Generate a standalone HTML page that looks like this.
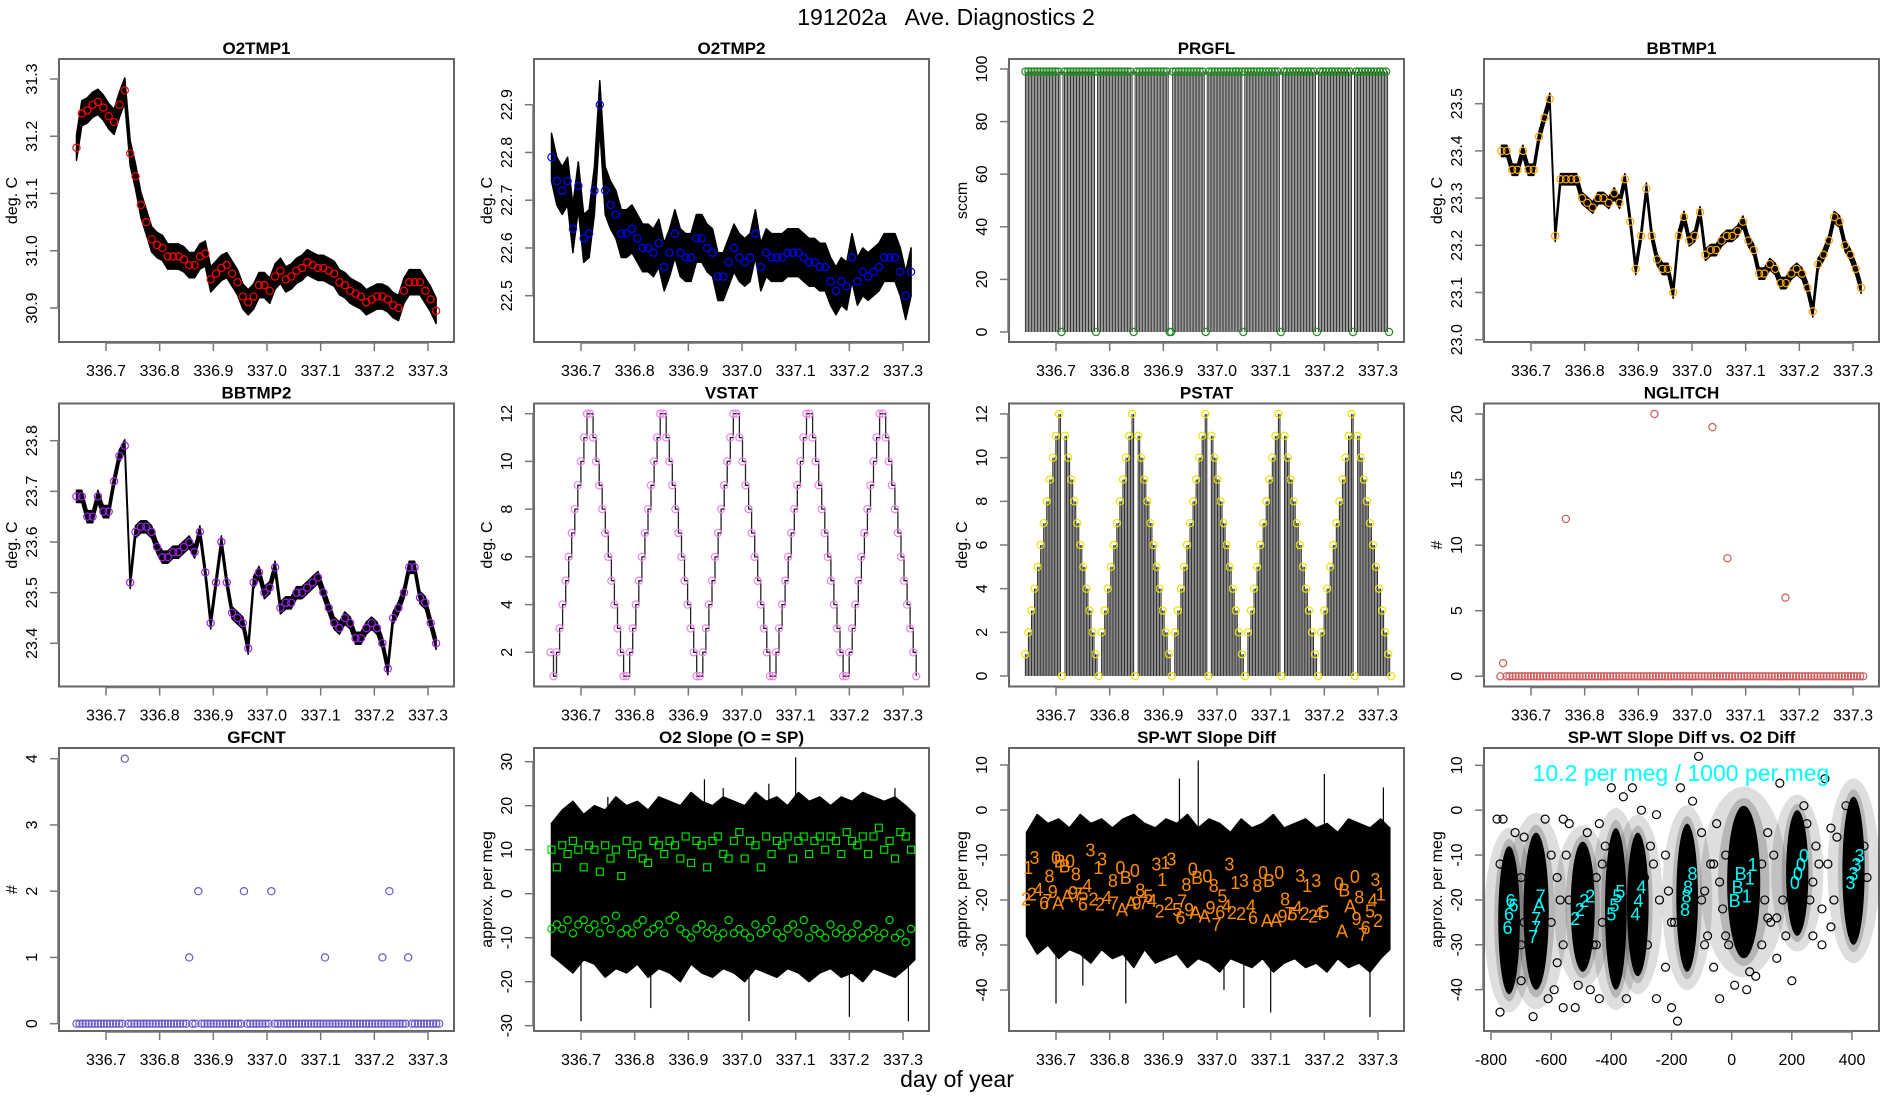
<!DOCTYPE html>
<html><head><meta charset="utf-8"><title>191202a Ave. Diagnostics 2</title>
<style>html,body{margin:0;padding:0;background:#fff}svg{display:block}text{font-family:"Liberation Sans",Arial,sans-serif}</style>
</head><body>
<svg id="chart" xmlns="http://www.w3.org/2000/svg" width="1900" height="1100" viewBox="0 0 1900 1100">
<rect x="0" y="0" width="1900" height="1100" fill="#fff"/>
<text x="946" y="25" font-size="23" text-anchor="middle" xml:space="preserve">191202a   Ave. Diagnostics 2</text>
<text x="957" y="1087" font-size="23" text-anchor="middle">day of year</text>
</svg>
<script>
// ---------- data ----------
const tGrid = [336.645,336.655,336.665,336.675,336.685,336.695,336.705,336.715,336.725,336.735,336.745,336.755,336.765,336.775,336.785,336.795,336.805,336.815,336.825,336.835,336.845,336.855,336.865,336.875,336.885,336.895,336.905,336.915,336.925,336.935,336.945,336.955,336.965,336.975,336.985,336.995,337.005,337.015,337.025,337.035,337.045,337.055,337.065,337.075,337.085,337.095,337.105,337.115,337.125,337.135,337.145,337.155,337.165,337.175,337.185,337.195,337.205,337.215,337.225,337.235,337.245,337.255,337.265,337.275,337.285,337.295,337.305,337.315];
const o2tmp1 = [31.18,31.24,31.245,31.255,31.26,31.25,31.235,31.225,31.255,31.28,31.17,31.13,31.08,31.05,31.02,31.01,31.005,30.99,30.99,30.99,30.985,30.975,30.975,30.99,30.995,30.95,30.96,30.97,30.975,30.96,30.945,30.92,30.91,30.92,30.94,30.94,30.93,30.955,30.965,30.95,30.955,30.965,30.97,30.98,30.975,30.97,30.97,30.965,30.96,30.945,30.94,30.93,30.925,30.92,30.91,30.915,30.92,30.92,30.915,30.905,30.90,30.93,30.945,30.945,30.945,30.93,30.915,30.895];
const o2tmp2 = [22.79,22.74,22.72,22.74,22.64,22.73,22.62,22.63,22.72,22.90,22.72,22.69,22.67,22.63,22.63,22.64,22.62,22.60,22.60,22.59,22.61,22.56,22.59,22.63,22.59,22.58,22.58,22.62,22.62,22.60,22.59,22.54,22.54,22.57,22.60,22.58,22.57,22.58,22.63,22.56,22.59,22.58,22.58,22.58,22.59,22.59,22.59,22.58,22.57,22.57,22.56,22.56,22.53,22.51,22.53,22.52,22.58,22.53,22.55,22.54,22.55,22.56,22.58,22.58,22.58,22.55,22.50,22.55];
const bbtmp1 = [23.40,23.40,23.36,23.36,23.40,23.36,23.36,23.43,23.47,23.51,23.22,23.34,23.34,23.34,23.34,23.30,23.29,23.28,23.30,23.30,23.29,23.31,23.29,23.34,23.25,23.15,23.22,23.32,23.22,23.17,23.15,23.15,23.10,23.22,23.26,23.21,23.22,23.27,23.18,23.19,23.19,23.21,23.22,23.22,23.23,23.25,23.21,23.19,23.14,23.14,23.16,23.15,23.12,23.12,23.14,23.15,23.14,23.11,23.06,23.16,23.18,23.21,23.26,23.25,23.20,23.18,23.15,23.11];
const bbtmp2 = [23.69,23.69,23.65,23.65,23.69,23.66,23.66,23.72,23.77,23.79,23.52,23.62,23.63,23.63,23.62,23.59,23.57,23.57,23.58,23.58,23.59,23.60,23.58,23.62,23.54,23.44,23.52,23.60,23.52,23.46,23.45,23.44,23.39,23.52,23.54,23.50,23.51,23.55,23.47,23.48,23.48,23.50,23.50,23.51,23.52,23.53,23.50,23.47,23.44,23.43,23.45,23.44,23.41,23.41,23.43,23.44,23.43,23.40,23.35,23.45,23.47,23.50,23.55,23.55,23.49,23.48,23.44,23.40];
const noiseAmp = [0.022, 0.05, 0.012, 0.012];

const purgeZeroTimes = [336.71,336.775,336.845,336.913,336.98,337.05,337.118,337.185,337.253,337.32];
const purgeHigh = 99;

const vstatVals = [2,1,2,3,4,5,6,7,8,9,10,11,12,12,11,10,9,8,7,6,5,4,3,2,1,1,2,3,4,5,6,7,8,9,10,11,12,12,11,10,9,8,7,6,5,4,3,2,1,1,2,3,4,5,6,7,8,9,10,11,12,12,11,10,9,8,7,6,5,4,3,2,1,1,2,3,4,5,6,7,8,9,10,11,12,12,11,10,9,8,7,6,5,4,3,2,1,1,2,3,4,5,6,7,8,9,10,11,12,12,11,10,9,8,7,6,5,4,3,2,1];
const pstatVals = [1,2,3,4,5,6,7,8,9,10,11,12,0,11,10,9,8,7,6,5,4,3,2,1,0,2,3,4,5,6,7,8,9,10,11,12,0,11,10,9,8,7,6,5,4,3,2,1,0,2,3,4,5,6,7,8,9,10,11,12,0,11,10,9,8,7,6,5,4,3,2,1,0,2,3,4,5,6,7,8,9,10,11,12,0,11,10,9,8,7,6,5,4,3,2,1,0,2,3,4,5,6,7,8,9,10,11,12,0,11,10,9,8,7,6,5,4,3,2,1,0];

const nglitchTimes = [336.648,336.765,336.93,337.038,337.066,337.174];
const nglitchVals = [1,12,20,19,9,6];
const gfcntTimes = [336.735,336.855,336.872,336.957,337.008,337.108,337.215,337.228,337.263];
const gfcntVals = [4,1,2,2,2,1,1,2,1];

const o2Low = [-8,-7,-8,-6,-9,-7,-6,-8,-7,-9,-6,-8,-5,-9,-8,-9,-7,-6,-9,-8,-7,-9,-6,-5,-8,-9,-10,-8,-7,-9,-8,-10,-9,-6,-9,-8,-9,-10,-7,-9,-8,-6,-9,-10,-8,-7,-9,-6,-10,-8,-9,-10,-7,-9,-8,-10,-9,-7,-10,-9,-8,-10,-9,-6,-10,-9,-11,-8];
const o2High = [10,6,11,9,12,10,6,11,10,5,11,8,10,4,12,9,11,8,7,12,11,9,12,11,8,13,7,12,11,6,12,13,9,8,12,14,8,12,11,6,13,9,12,11,13,8,12,13,9,12,13,10,13,12,9,14,12,11,13,9,13,15,10,12,8,14,13,10];
const tCoarse = [336.645,336.665,336.685,336.705,336.725,336.745,336.765,336.785,336.805,336.825,336.845,336.865,336.885,336.905,336.925,336.945,336.965,336.985,337.005,337.025,337.045,337.065,337.085,337.105,337.125,337.145,337.165,337.185,337.205,337.225,337.245,337.265,337.285,337.305,337.322];
const o2BandTop = [16,19,21,18,20,19,22,20,21,19,22,21,20,23,21,20,22,21,20,23,21,22,20,23,21,22,20,22,21,23,22,21,22,20,18];
const o2BandBot = [-14,-16,-18,-15,-16,-19,-17,-18,-16,-19,-17,-18,-20,-16,-18,-19,-17,-18,-20,-17,-18,-19,-17,-18,-20,-18,-17,-19,-18,-20,-17,-18,-19,-17,-15];
const spBandTop = [-5,-1,-3,-2,-4,-1,-3,-2,-4,-2,-1,-3,-4,-2,-3,-1,-4,-2,-3,-5,-2,-4,-3,-1,-4,-3,-2,-4,-3,-5,-2,-3,-4,-2,-4];
const spBandBot = [-28,-32,-30,-33,-31,-32,-34,-31,-33,-32,-35,-31,-34,-33,-32,-35,-33,-34,-36,-33,-34,-35,-33,-36,-34,-33,-35,-34,-36,-33,-35,-34,-36,-33,-31];
const spikeTimes = [336.7,336.75,336.83,336.93,336.965,337.013,337.05,337.1,337.2,337.285,337.31];
const o2SpikeVals = [-29,22,-26,26,24,-29,25,31,-28,24,-29];
const spSpikeVals = [-43,-39,-43,7,11,-40,-44,-45,8,-46,5];

const spLabT = [336.644,336.648,336.655,336.660,336.667,336.678,336.684,336.688,336.694,336.700,336.704,336.707,336.716,336.721,336.726,336.732,336.737,336.741,336.750,336.751,336.758,336.764,336.770,336.779,336.782,336.786,336.795,336.806,336.808,336.820,336.823,336.830,336.840,336.847,336.850,336.857,336.863,336.872,336.879,336.887,336.893,336.898,336.904,336.910,336.915,336.926,336.932,336.935,336.943,336.948,336.955,336.960,336.963,336.977,336.982,336.988,336.994,336.999,337.006,337.010,337.018,337.023,337.028,337.034,337.045,337.050,337.063,337.067,337.075,337.086,337.093,337.097,337.110,337.116,337.122,337.127,337.135,337.141,337.150,337.155,337.163,337.168,337.179,337.185,337.188,337.200,337.227,337.233,337.237,337.248,337.257,337.260,337.265,337.272,337.277,337.285,337.290,337.295,337.300,337.305];
const spLabV = [-19.7,-12.7,-18.6,-10.4,-17.5,-20.5,-20,-14.5,-18,-10.4,-20.5,-11.2,-12.3,-19,-11.2,-18.2,-14.1,-18.6,-20.8,-18.6,-16.7,-8.8,-19.7,-12.7,-20.8,-10.8,-19.3,-15.6,-20.5,-12.7,-22,-14.9,-20.5,-13.3,-20.5,-17.7,-20.5,-19,-20,-11.9,-22.3,-15.3,-11.5,-20.7,-10.8,-22,-23.8,-20.1,-16.4,-22,-13,-22.7,-14.9,-23.4,-14.5,-21.6,-16.7,-25.3,-22.5,-19,-21.2,-11.9,-22.7,-16,-22.9,-15.6,-21.2,-23.8,-16.7,-13.8,-24.4,-15.5,-24.3,-13.8,-23.4,-19.7,-22.9,-23,-21.6,-14.4,-22.9,-16.7,-23.4,-15.5,-22.9,-22.5,-16.2,-26.8,-17.7,-21.2,-14.7,-24,-19.2,-27.5,-26,-22.3,-19.9,-15.3,-24.4,-18.5];
const spLabC = ["2","1","2","3","4","6","7","8","9","0","A","B","B","A","0","9","8","7","6","5","4","3","2","1","2","3","4","8","7","0","A","B","A","0","9","8","7","5","4","3","2","1","1","2","3","5","6","7","8","9","0","A","B","A","0","9","8","7","6","5","4","3","2","1","2","3","4","6","8","0","A","B","A","0","9","8","7","5","4","3","2","1","2","3","4","5","0","A","B","A","0","9","8","7","6","5","4","3","2","1"];

const clusterX = [-740,-650,-495,-385,-312,-148,40,218,405];
const clusterTop = [-8,-5,-7,-4,-5,-3,1,0,3];
const clusterBot = [-41,-40,-36,-40,-37,-36,-33,-28,-30];
const clusterHalfW = [26,32,30,26,26,26,45,27,27];
const outX = [-780,-760,-720,-690,-770,-700,-690,-700,-770,-660,-610,-590,-560,-600,-580,-550,-560,-520,-510,-540,-470,-440,-450,-430,-420,-440,-400,-360,-330,-350,-280,-290,-250,-250,-220,-220,-200,-180,-190,-170,-110,-100,-90,-80,-60,-40,-50,-20,-30,10,50,80,110,120,140,150,160,180,200,250,260,270,290,300,310,320,340,330,380,440,450,-620,-560,-480,-300,-130,-10,100,240,-570,-460,-240,-70,60,130,280,350,-600,-540,-450,-350,-260,-200,-100,-60,-20,100,150,270,330,-700,-580,-430,-270,-210,-90,-40,120,170,300];
const outY = [-2,-2,-5,-6,-12,-15,-25,-38,-45,-46,-42,-40,-44,-25,-15,-10,-30,-44,-39,-3,-40,-42,-15,-25,-8,-3,5,3,5,-42,-30,-15,-1,-42,-10,-35,-44,-47,-25,5,12,-5,-18,-28,-35,-42,-3,-10,-22,-39,-40,-37,-20,-5,-10,-33,6,-28,-38,-3,-20,-28,-12,-22,7,-12,-20,-26,1,-8,-15,-2,-2,-5,0,2,-30,-30,1,-20,-30,-20,-12,-36,-25,-8,-6,-10,-20,-30,-20,-12,-25,-20,-12,-28,-12,-24,-16,-4,-30,-34,-12,-8,-18,-30,-16,-24,-20,-30];
const cyanX = [-745,-740,-735,-725,-660,-650,-640,-635,-650,-520,-505,-490,-470,-400,-390,-380,-370,-320,-310,-300,-155,-150,-145,-130,10,20,30,50,60,70,210,220,230,240,395,405,415,425];
const cyanY = [-26,-23,-20,-21,-28,-24,-21,-19,-26,-24,-22,-20,-19,-23,-21,-19,-18,-23,-20,-17,-22,-19,-17,-14,-20,-17,-14,-19,-15,-12,-16,-14,-12,-10,-16,-14,-12,-10];
const cyanC = ["6","6","6","6","7","7","A","7","7","2","2","2","2","5","5","5","5","4","4","4","8","8","8","8","B","B","B","1","1","1","0","0","0","0","3","3","3","3"];

const timeTicks = [336.7,336.8,336.9,337.0,337.1,337.2,337.3];
const timeTickLabels = ["336.7","336.8","336.9","337.0","337.1","337.2","337.3"];

// ---------- drawing ----------
const NS = "http://www.w3.org/2000/svg";
const svg = document.getElementById("chart");
function mk(tag, attrs, parent){ const e=document.createElementNS(NS,tag); for(const k in attrs) e.setAttribute(k,attrs[k]); (parent||svg).appendChild(e); return e; }
function box(c,r){ const L=475*c+59, T=59+344.5*r; return {L:L,R:L+395,T:T,B:T+283,cL:475*c}; }
function timeX(b){ return t => b.cL + 106 + (t-336.7)*536.7; }
function linY(v0,p0,v1,p1){ const k=(p1-p0)/(v1-v0); return v => p0+(v-v0)*k; }

function frame(b, title, name){
  const g=mk("g",{});
  
  
  const rc=mk("rect",{x:b.L,y:b.T,width:b.R-b.L,height:b.B-b.T,fill:"none",stroke:"#666","stroke-width":2},g);
  
  
  const tt=mk("text",{x:(b.L+b.R)/2,y:b.T-5,"font-size":17,"font-weight":"bold","text-anchor":"middle"},g);
  tt.textContent=title;
  
  
  return g;
}
function xAxis(g,b,sx,ticks,labels,name){
  const ax=mk("g",{},g);
  
  
  const p0=sx(ticks[0]), p1=sx(ticks[ticks.length-1]);
  mk("line",{x1:p0,x2:p1,y1:b.B+1,y2:b.B+1,stroke:"#777","stroke-width":1.5},ax);
  ticks.forEach((t,i)=>{
    const x=sx(t);
    mk("line",{x1:x,x2:x,y1:b.B,y2:b.B+9,stroke:"#777","stroke-width":1.5},ax);
    const tx=mk("text",{x:x,y:b.B+34,"font-size":16,"text-anchor":"middle"},ax);
    tx.textContent=labels[i];
    
    
  });
}
function yAxis(g,b,sy,ticks,labels,ylab,name){
  const ax=mk("g",{},g);
  
  
  const p0=sy(ticks[0]), p1=sy(ticks[ticks.length-1]);
  mk("line",{x1:b.L-1,x2:b.L-1,y1:p0,y2:p1,stroke:"#777","stroke-width":1.5},ax);
  ticks.forEach((t,i)=>{
    const y=sy(t);
    mk("line",{x1:b.L-9,x2:b.L,y1:y,y2:y,stroke:"#777","stroke-width":1.5},ax);
    const tx=mk("text",{x:0,y:0,"font-size":16,"text-anchor":"middle",transform:`translate(${b.cL+37},${y}) rotate(-90)`},ax);
    tx.textContent=labels[i];
    
    
  });
  const yl=mk("text",{x:0,y:0,"font-size":16,"text-anchor":"middle",transform:`translate(${b.cL+17},${(b.T+b.B)/2}) rotate(-90)`},ax);
  yl.textContent=ylab;
  
  
}
function band(g,sx,sy,ts,top,bot,name){
  let d="M"+ts.map((t,i)=>sx(t).toFixed(1)+","+sy(top[i]).toFixed(1)).join(" L");
  for(let i=ts.length-1;i>=0;i--) d+=" L"+sx(ts[i]).toFixed(1)+","+sy(bot[i]).toFixed(1);
  const p=mk("path",{d:d+"Z",fill:"#000",stroke:"#000","stroke-width":1.5,"stroke-linejoin":"round"},g);
  
  
}
function circles(g,sx,sy,ts,vs,color,name,r){
  const cg=mk("g",{},g);
  
  
  ts.forEach((t,i)=>{
    const c=mk("circle",{cx:sx(t),cy:sy(vs[i]),r:r||3.6,fill:"none",stroke:color,"stroke-width":1.2},cg);
    
    
  });
}
function labelsOf(vals){ return vals.map(v=>String(v)); }

function tempPanel(c,r,title,name,vals,amp,color,sy,ticks,tickLabels){
  const b=box(c,r), sx=timeX(b);
  const g=frame(b,title,name);
  const top=vals.map(v=>v+amp), bot=vals.map(v=>v-amp);
  band(g,sx,sy,tGrid,top,bot,name+'-trace');
  circles(g,sx,sy,tGrid,vals,color,name+'-means');
  xAxis(g,b,sx,timeTicks,timeTickLabels,name);
  yAxis(g,b,sy,ticks,tickLabels,"deg. C",name);
}
tempPanel(0,0,"O2TMP1","o2tmp1",o2tmp1,noiseAmp[0],"#ff0000",linY(31.3,79,30.9,308),[30.9,31.0,31.1,31.2,31.3],["30.9","31.0","31.1","31.2","31.3"]);
tempPanel(1,0,"O2TMP2","o2tmp2",o2tmp2,noiseAmp[1],"#0000ff",linY(22.9,104.7,22.5,295.7),[22.5,22.6,22.7,22.8,22.9],["22.5","22.6","22.7","22.8","22.9"]);
tempPanel(3,0,"BBTMP1","bbtmp1",bbtmp1,noiseAmp[2],"#ffa500",linY(23.5,103.7,23.0,339.7),[23.0,23.1,23.2,23.3,23.4,23.5],["23.0","23.1","23.2","23.3","23.4","23.5"]);
tempPanel(0,1,"BBTMP2","bbtmp2",bbtmp2,noiseAmp[3],"#a020f0",linY(23.8,440.7,23.4,643.3),[23.4,23.5,23.6,23.7,23.8],["23.4","23.5","23.6","23.7","23.8"]);

// PRGFL
(function(){
  const b=box(2,0), sx=timeX(b), sy=linY(100,69,0,332);
  const g=frame(b,"PRGFL","prgfl");
  const lg=mk("g",{},g);
  
  
  const ts=[], vs=[];
  for(let t=336.643;t<=337.322;t+=0.0028){
    const isZero=purgeZeroTimes.some(z=>Math.abs(z-t)<0.0016);
    ts.push(t); vs.push(isZero?0:purgeHigh);
  }
  ts.forEach((t,i)=>{ if(vs[i]>0) mk("line",{x1:sx(t),x2:sx(t),y1:sy(0),y2:sy(vs[i]),stroke:"#333","stroke-width":1},lg); });
  const cts=ts.filter((t,i)=>i%2===0||vs[i]===0), cvs=ts.map((t,i)=>vs[i]).filter((v,i)=>i%2===0||v===0);
  circles(g,sx,sy,cts,cvs,"#228b22","prgfl-points");
  xAxis(g,b,sx,timeTicks,timeTickLabels,"prgfl");
  yAxis(g,b,sy,[0,20,40,60,80,100],labelsOf([0,20,40,60,80,100]),"sccm","prgfl");
})();

// VSTAT
(function(){
  const b=box(1,1), sx=timeX(b), sy=linY(12,413.7,2,652.3);
  const g=frame(b,"VSTAT","vstat");
  const ts=vstatVals.map((v,i)=>336.643+i*0.00568);
  let d="";
  ts.forEach((t,i)=>{ d+=(i?" L"+sx(t).toFixed(1)+","+sy(vstatVals[i-1]).toFixed(1)+" L":"M")+sx(t).toFixed(1)+","+sy(vstatVals[i]).toFixed(1); });
  const p=mk("path",{d:d,fill:"none",stroke:"#222","stroke-width":1.3},g);
  
  
  circles(g,sx,sy,ts,vstatVals,"#ee82ee","vstat-points");
  xAxis(g,b,sx,timeTicks,timeTickLabels,"vstat");
  yAxis(g,b,sy,[2,4,6,8,10,12],labelsOf([2,4,6,8,10,12]),"deg. C","vstat");
})();

// PSTAT
(function(){
  const b=box(2,1), sx=timeX(b), sy=linY(12,414,0,676);
  const g=frame(b,"PSTAT","pstat");
  const ts=pstatVals.map((v,i)=>336.643+i*0.00568);
  const lg=mk("g",{},g);
  
  
  ts.forEach((t,i)=>{ for(let k=0;k<2;k++){ const x=sx(t+k*0.0028); if(pstatVals[i]>0) mk("line",{x1:x,x2:x,y1:sy(0),y2:sy(pstatVals[i]),stroke:"#333","stroke-width":1.1},lg);} });
  circles(g,sx,sy,ts,pstatVals,"#e6e600","pstat-points");
  xAxis(g,b,sx,timeTicks,timeTickLabels,"pstat");
  yAxis(g,b,sy,[0,2,4,6,8,10,12],labelsOf([0,2,4,6,8,10,12]),"deg. C","pstat");
})();

// NGLITCH
(function(){
  const b=box(3,1), sx=timeX(b), sy=linY(20,414,0,676.3);
  const g=frame(b,"NGLITCH","nglitch");
  const zt=[]; for(let i=0;i<120;i++){ const t=336.643+i*0.00568; if(!nglitchTimes.some(n=>Math.abs(n-t)<0.002)) zt.push(t); }
  circles(g,sx,sy,zt,zt.map(()=>0),"#cd5c5c","nglitch-zero-points");
  circles(g,sx,sy,nglitchTimes,nglitchVals,"#cd5c5c","nglitch-events");
  xAxis(g,b,sx,timeTicks,timeTickLabels,"nglitch");
  yAxis(g,b,sy,[0,5,10,15,20],labelsOf([0,5,10,15,20]),"#","nglitch");
})();

// GFCNT
(function(){
  const b=box(0,2), sx=timeX(b), sy=linY(4,758.7,0,1023.7);
  const g=frame(b,"GFCNT","gfcnt");
  const zt=[]; for(let i=0;i<120;i++){ const t=336.645+i*0.00568; if(!gfcntTimes.some(n=>Math.abs(n-t)<0.002)) zt.push(t); }
  circles(g,sx,sy,zt,zt.map(()=>0),"#6a5acd","gfcnt-zero-points");
  circles(g,sx,sy,gfcntTimes,gfcntVals,"#6a5acd","gfcnt-events");
  xAxis(g,b,sx,timeTicks,timeTickLabels,"gfcnt");
  yAxis(g,b,sy,[0,1,2,3,4],labelsOf([0,1,2,3,4]),"#","gfcnt");
})();

// O2 Slope
(function(){
  const b=box(1,2), sx=timeX(b), sy=linY(30,761.7,-30,1025.7);
  const g=frame(b,"O2 Slope (O = SP)","o2-slope");
  band(g,sx,sy,tCoarse,o2BandTop,o2BandBot,'o2-slope-trace');
  spikeTimes.forEach((t,i)=>{ mk("line",{x1:sx(t),x2:sx(t),y1:sy(0),y2:sy(o2SpikeVals[i]),stroke:"#000","stroke-width":1.2},g); });
  circles(g,sx,sy,tGrid,o2Low,"#00dd00","o2-slope-sp-points");
  const sq=mk("g",{},g);
  
  
  tGrid.forEach((t,i)=>{ const s=mk("rect",{x:sx(t)-3.5,y:sy(o2High[i])-3.5,width:7,height:7,fill:"none",stroke:"#00dd00","stroke-width":1.2},sq);   });
  xAxis(g,b,sx,timeTicks,timeTickLabels,"o2-slope");
  yAxis(g,b,sy,[-30,-20,-10,0,10,20,30],labelsOf([-30,-20,-10,0,10,20,30]),"approx. per meg","o2-slope");
})();

// SP-WT Slope Diff
(function(){
  const b=box(2,2), sx=timeX(b), sy=linY(10,765,-40,990);
  const g=frame(b,"SP-WT Slope Diff","sp-wt-diff");
  band(g,sx,sy,tCoarse,spBandTop,spBandBot,'sp-wt-diff-trace');
  spikeTimes.forEach((t,i)=>{ mk("line",{x1:sx(t),x2:sx(t),y1:sy(-18),y2:sy(spSpikeVals[i]),stroke:"#000","stroke-width":1.2},g); });
  const lg=mk("g",{},g);
  
  
  spLabT.forEach((t,i)=>{ const tx=mk("text",{x:sx(t),y:sy(spLabV[i])+7,"font-size":18,fill:"#ff8c00","text-anchor":"middle"},lg); tx.textContent=spLabC[i]; });
  xAxis(g,b,sx,timeTicks,timeTickLabels,"sp-wt-diff");
  yAxis(g,b,sy,[-40,-30,-20,-10,0,10],labelsOf([-40,-30,-20,-10,0,10]),"approx. per meg","sp-wt-diff");
})();

// Scatter
(function(){
  const b=box(3,2), sx=linY(-800,1491,400,1852), sy=linY(10,765.3,-40,989.7);
  const g=frame(b,"SP-WT Slope Diff vs. O2 Diff","scatter");
  const hg=mk("g",{},g);
  
  
  clusterX.forEach((x,i)=>{
    const cy=(sy(clusterTop[i])+sy(clusterBot[i]))/2, ry=(sy(clusterBot[i])-sy(clusterTop[i]))/2;
    mk("ellipse",{cx:sx(x),cy:cy,rx:clusterHalfW[i]*0.301*3.2,ry:ry*1.25,fill:"#000","fill-opacity":0.13},hg);
    mk("ellipse",{cx:sx(x),cy:cy,rx:clusterHalfW[i]*0.301*1.9,ry:ry*1.1,fill:"#000","fill-opacity":0.18},hg);
    mk("ellipse",{cx:sx(x),cy:cy,rx:clusterHalfW[i]*0.301+3,ry:ry,fill:"#000"},hg);
  });
  circles(g,sx,sy,outX,outY,"#000","scatter-outliers",4);
  const cg=mk("g",{},g);
  
  
  cyanX.forEach((x,i)=>{ const tx=mk("text",{x:sx(x),y:sy(cyanY[i])+7,"font-size":18,fill:"#00ffff","text-anchor":"middle"},cg); tx.textContent=cyanC[i]; });
  const ann=mk("text",{x:1681,y:781,"font-size":23,fill:"#00ffff","text-anchor":"middle"},g);
  ann.textContent="10.2 per meg / 1000 per meg";
  
  
  xAxis(g,b,sx,[-800,-600,-400,-200,0,200,400],labelsOf([-800,-600,-400,-200,0,200,400]),"scatter");
  yAxis(g,b,sy,[-40,-30,-20,-10,0,10],labelsOf([-40,-30,-20,-10,0,10]),"approx. per meg","scatter");
})();
</script>
</body></html>
